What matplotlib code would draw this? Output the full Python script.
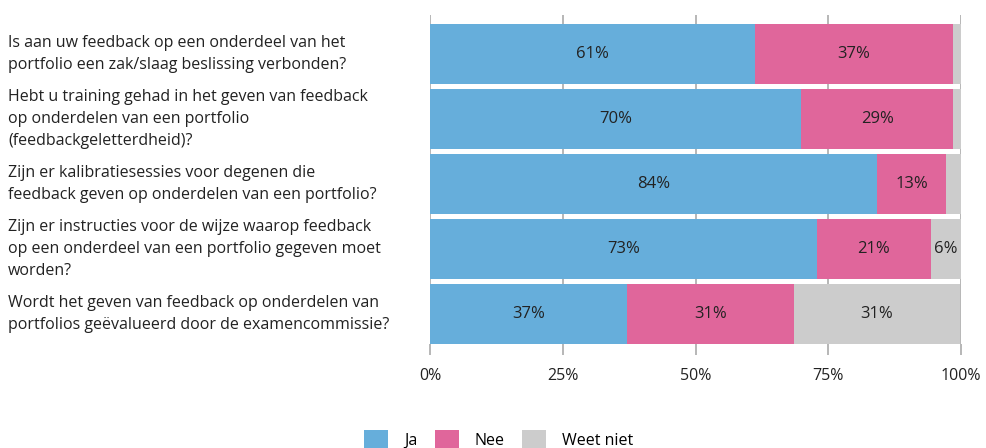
import matplotlib.pyplot as plt
from matplotlib.transforms import blended_transform_factory

plt.rcParams['font.family'] = ['Open Sans', 'DejaVu Sans']

questions = [
    'Is aan uw feedback op een onderdeel van het\nportfolio een zak/slaag beslissing verbonden?',
    'Hebt u training gehad in het geven van feedback\nop onderdelen van een portfolio\n(feedbackgeletterdheid)?',
    'Zijn er kalibratiesessies voor degenen die\nfeedback geven op onderdelen van een portfolio?',
    'Zijn er instructies voor de wijze waarop feedback\nop een onderdeel van een portfolio gegeven moet\nworden?',
    'Wordt het geven van feedback op onderdelen van\nportfolios geëvalueerd door de examencommissie?',
]
ja = [61.2, 69.9, 84.2, 72.9, 37.1]
nee = [37.3, 28.6, 13.0, 21.4, 31.4]
weet_niet = [1.5, 1.5, 2.8, 5.7, 31.4]

series = [('Ja', ja, '#66aedb'), ('Nee', nee, '#e0669b'), ('Weet niet', weet_niet, '#cccccc')]

fig = plt.figure(figsize=(9.86, 4.48), dpi=100)
ax = fig.add_axes([430 / 986, 1 - 344 / 448, 531 / 986, 329 / 448])

h = 60 / 65
ypos = list(range(len(questions)))
left = [0] * len(questions)
for name, vals, col in series:
    ax.barh(ypos, vals, left=left, height=h, color=col, label=name, zorder=2)
    for y, l, v in zip(ypos, left, vals):
        if v >= 5:
            ax.text(l + v / 2, y, f'{round(v)}%', ha='center', va='center',
                    fontsize=12, color='#222222', zorder=3)
    left = [a + b for a, b in zip(left, vals)]

ax.set_xlim(0, 100)
ax.set_ylim(4 + h / 2, -0.6)
ax.set_xticks([0, 25, 50, 75, 100])
ax.set_xticklabels(['0%', '25%', '50%', '75%', '100%'], fontsize=11.5, color='#222222')
ax.tick_params(axis='x', length=8, color='#aaaaaa', width=1.2, pad=9)
ax.set_yticks([])
ax.grid(axis='x', color='#aaaaaa', linewidth=1.2, zorder=0)
for s in ax.spines.values():
    s.set_visible(False)

tr = blended_transform_factory(fig.transFigure, ax.transData)
for y, q in zip(ypos, questions):
    ax.text(8 / 986, y, q, transform=tr, ha='left', va='center',
            fontsize=11.5, color='#222222', linespacing=1.5)

fig.legend(loc='lower center', bbox_to_anchor=(0.506, -0.035), ncol=3, frameon=False,
           fontsize=11.5, handlelength=1.5, handleheight=1.5, columnspacing=1.1,
           handletextpad=1.0)

fig.savefig('out.png', dpi=100)
